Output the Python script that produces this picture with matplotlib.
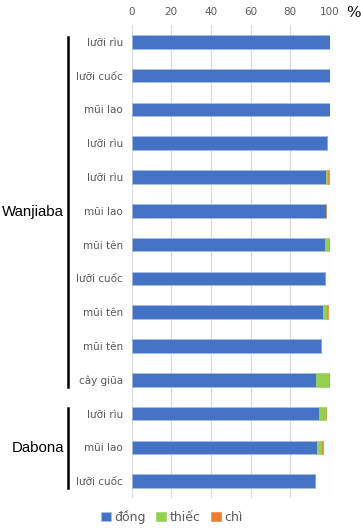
import matplotlib
matplotlib.use("Agg")
import matplotlib.pyplot as plt
import numpy as np

plt.rcParams['font.family'] = ['DejaVu Sans']

categories = ["lưỡi rìu", "lưỡi cuốc", "mũi lao", "lưỡi rìu", "lưỡi rìu", "mũi lao",
              "mũi tên", "lưỡi cuốc", "mũi tên", "mũi tên", "cây giũa",
              "lưỡi rìu", "mũi lao", "lưỡi cuốc"]
dong =  [99.8, 99.9, 99.9, 98.5, 98.2, 98.1, 97.3, 97.4, 96.3, 95.5, 93.0, 94.5, 93.4, 92.6]
thiec = [0.0, 0.0, 0.0, 0.0, 1.0, 0.0, 2.0, 0.0, 2.0, 0.0, 6.4, 3.5, 2.5, 0.0]
chi =   [0.2, 0.1, 0.0, 0.0, 0.5, 0.0, 0.0, 0.2, 0.5, 0.0, 0.0, 0.0, 0.8, 0.0]
series_names = ["đồng", "thiếc", "chì"]
groups = [("Wanjiaba", 0, 10), ("Dabona", 11, 13)]
xticks = [0, 20, 40, 60, 80, 100]

colors = ["#4472C4", "#92D050", "#ED7D31"]

W, H = 361, 528
fig = plt.figure(figsize=(W/100, H/100), dpi=100)
ax = fig.add_axes([131.5/W, 1-498/H, (330-131.5)/W, (498-25)/H])

y = np.arange(len(categories))
left = np.zeros(len(categories))
for vals, name, c in zip([dong, thiec, chi], series_names, colors):
    ax.barh(y, vals, left=left, height=0.4, color=c, label=name,
            edgecolor="#A9C1E8" if c == colors[0] else c, linewidth=0.4, zorder=3)
    left += np.array(vals)

ax.set_ylim(len(categories)-0.5, -0.5)
ax.set_xlim(0, 100)
ax.set_xticks(xticks)
ax.xaxis.tick_top()
ax.tick_params(axis='x', length=0, labelsize=7.5, labelcolor="#595959", pad=6)
ax.set_yticks(y)
ax.set_yticklabels(categories)
ax.tick_params(axis='y', length=0, labelsize=7.5, labelcolor="#595959", pad=6)
ax.grid(axis='x', color="#D9D9D9", linewidth=0.8, zorder=0)
for s in ax.spines.values():
    s.set_visible(False)

fig.text(346/W, 1-13/H, "%", fontsize=11, ha='left', va='center', family='DejaVu Serif')

# group brackets
def ypix(v):
    return ax.transData.transform((0, v))[1] / H

line_x = 68/W
for name, a, b in groups:
    y0 = ypix(a - 0.15)
    y1 = ypix(b + 0.2)
    fig.add_artist(plt.Line2D([line_x, line_x], [y0, y1],
                              color="black", linewidth=1.8, transform=fig.transFigure))
    fig.text(64/W, (y0+y1)/2, name, fontsize=10.8, ha='right', va='center',
             color="black", family='Liberation Sans')

handles, labels = ax.get_legend_handles_labels()
fig.legend(handles, labels, loc='center', bbox_to_anchor=(172/W, 1-517/H), ncol=3,
           frameon=False, fontsize=9, handlelength=0.8, handleheight=0.8,
           handletextpad=0.3, columnspacing=0.8, labelcolor="#595959")

fig.savefig("out.png", dpi=100)
